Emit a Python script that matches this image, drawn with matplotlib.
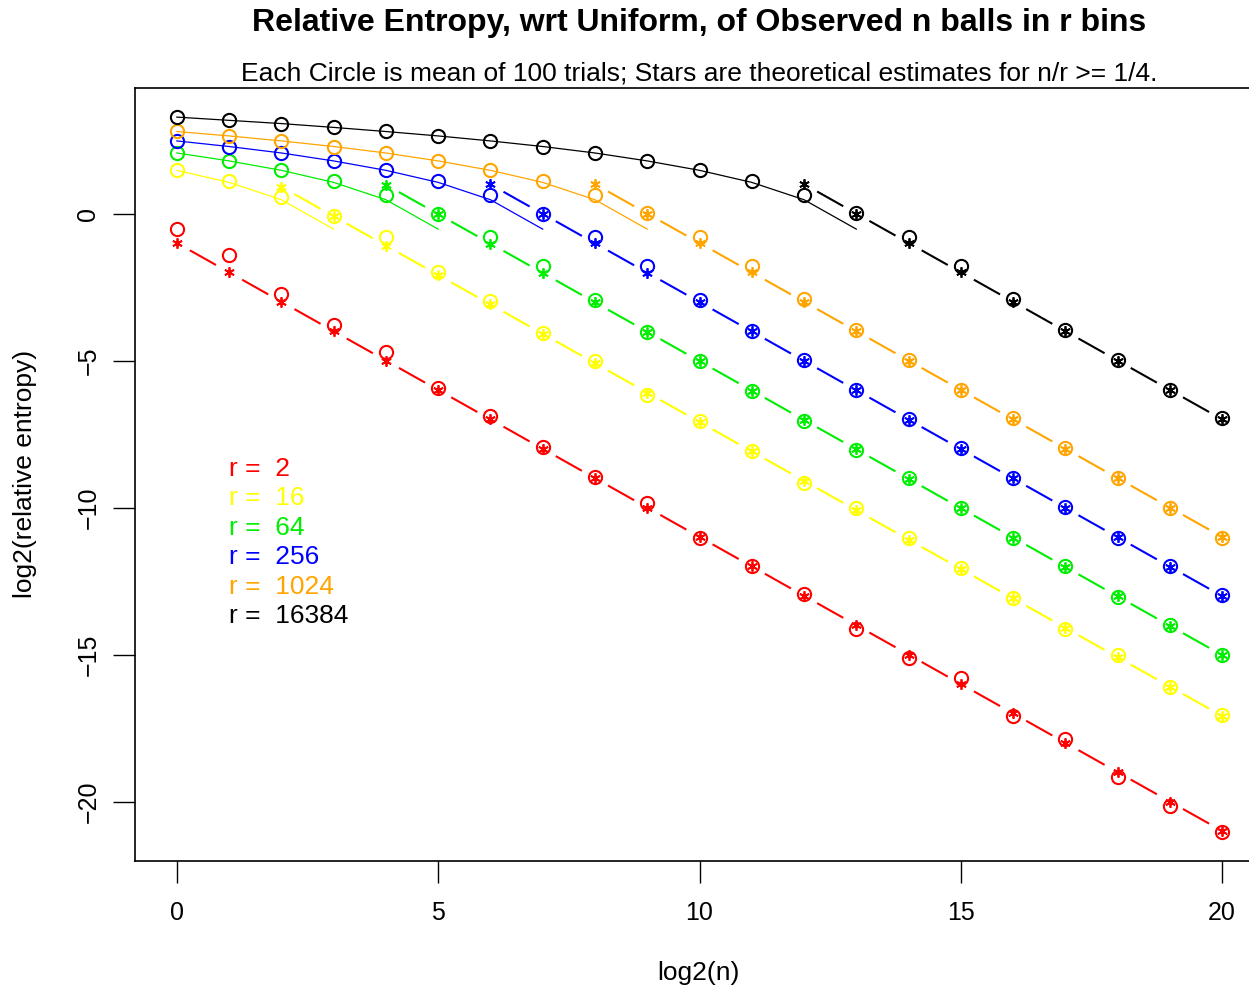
import matplotlib
matplotlib.use("Agg")
import matplotlib.pyplot as plt
import numpy as np

plt.rcParams['font.family'] = ['Liberation Sans', 'DejaVu Sans']

# bins (r) and colours
r_values = [2, 16, 64, 256, 1024, 16384]
colors = ['red', 'yellow', '#00ee00', 'blue', 'orange', 'black']

log2_n = list(range(21))

# observed means (circles), one list per r, x = 0..20
obs_r2 = [-0.52, -1.41, -2.73, -3.79, -4.72, -5.93, -6.87, -7.93, -8.95, -9.83, -11.05,
          -12.0, -12.93, -14.12, -15.1, -15.78, -17.1, -17.86, -19.18, -20.14, -21.05]
obs_r16 = [1.49, 1.10, 0.55, -0.07, -0.81, -2.0, -2.96, -4.07, -5.0, -6.16, -7.04,
           -8.06, -9.18, -10.0, -11.02, -12.04, -13.06, -14.12, -15.03, -16.09, -17.04]
obs_r64 = [2.06, 1.80, 1.49, 1.10, 0.63, -0.03, -0.81, -1.80, -2.93, -4.02, -5.03,
           -6.02, -7.04, -8.03, -9.01, -10.03, -11.02, -12.0, -13.03, -13.98, -15.0]
obs_r256 = [2.46, 2.28, 2.07, 1.80, 1.49, 1.12, 0.63, -0.03, -0.81, -1.80, -2.94,
            -3.98, -4.97, -5.99, -7.0, -7.99, -9.01, -9.97, -11.02, -12.0, -12.99]
obs_r1024 = [2.80, 2.65, 2.46, 2.28, 2.07, 1.80, 1.49, 1.12, 0.63, 0.01, -0.81,
             -1.80, -2.91, -3.96, -4.97, -5.99, -6.97, -7.99, -9.01, -10.0, -11.02]
obs_r16384 = [3.30, 3.19, 3.05, 2.94, 2.80, 2.65, 2.48, 2.28, 2.07, 1.80, 1.49,
              1.12, 0.63, 0.01, -0.81, -1.80, -2.89, -3.95, -4.97, -5.99, -6.97]
observed = [obs_r2, obs_r16, obs_r64, obs_r256, obs_r1024, obs_r16384]

# theoretical estimates (stars), for n/r >= 1/4
star_start = [0, 2, 4, 6, 8, 12]
star_r2 = [-1.0, -2.0, -3.0, -4.0, -5.0, -6.0, -7.0, -8.0, -9.0, -10.0, -11.0,
           -12.0, -13.0, -14.0, -15.0, -16.0, -17.0, -18.0, -19.0, -20.0, -21.0]
star_r16 = [0.91, -0.09, -1.09, -2.09, -3.09, -4.09, -5.09, -6.09, -7.09, -8.09,
            -9.09, -10.09, -11.09, -12.09, -13.09, -14.09, -15.09, -16.09, -17.09]
star_r64 = [0.98, -0.02, -1.02, -2.02, -3.02, -4.02, -5.02, -6.02, -7.02, -8.02,
            -9.02, -10.02, -11.02, -12.02, -13.02, -14.02, -15.02]
star_r256 = [0.99, -0.01, -1.01, -2.01, -3.01, -4.01, -5.01, -6.01, -7.01, -8.01,
             -9.01, -10.01, -11.01, -12.01, -13.01]
star_r1024 = [1.0, 0.0, -1.0, -2.0, -3.0, -4.0, -5.0, -6.0, -7.0, -8.0, -9.0,
              -10.0, -11.0]
star_r16384 = [1.0, 0.0, -1.0, -2.0, -3.0, -4.0, -5.0, -6.0, -7.0]
stars = [star_r2, star_r16, star_r64, star_r256, star_r1024, star_r16384]

# thin solid curves for small n (x = 0 .. log2(r)-1)
curve_r2 = []
curve_r16 = [1.47, 1.06, 0.47, -0.53]
curve_r64 = [2.06, 1.79, 1.47, 1.06, 0.47, -0.53]
curve_r256 = [2.47, 2.28, 2.06, 1.79, 1.47, 1.06, 0.47, -0.53]
curve_r1024 = [2.79, 2.64, 2.47, 2.28, 2.06, 1.79, 1.47, 1.06, 0.47, -0.53]
curve_r16384 = [3.28, 3.17, 3.06, 2.93, 2.79, 2.64, 2.47, 2.28, 2.06, 1.79,
                1.47, 1.06, 0.47, -0.53]
curves = [curve_r2, curve_r16, curve_r64, curve_r256, curve_r1024, curve_r16384]

W, H = 1249, 990
fig = plt.figure(figsize=(W / 100, H / 100), dpi=100)
ax = fig.add_axes([135 / W, 1 - 861 / H, (1264 - 135) / W, (861 - 88) / H])
ax.set_xlim(-0.8, 20.8)
ax.set_ylim(-22.02, 4.27)


def gapped_segments(x, y, color, gap=15):
    # R type="b": segments stop short of the points
    pts = ax.transData.transform(np.column_stack([x, y]))
    inv = ax.transData.inverted()
    for p0, p1 in zip(pts[:-1], pts[1:]):
        d = p1 - p0
        L = np.hypot(*d)
        if L <= 2 * gap:
            continue
        u = d / L
        a = inv.transform(p0 + u * gap)
        b = inv.transform(p1 - u * gap)
        ax.plot([a[0], b[0]], [a[1], b[1]], color=color, lw=1.5,
                solid_capstyle='butt')


for i, col in enumerate(colors):
    ax.plot(log2_n, observed[i], 'o', mfc='none', mec=col, ms=9.5, mew=1.5)
    xs = log2_n[star_start[i]:]
    ax.plot(xs, stars[i], ls='none', marker=(6, 2, 0), color=col, ms=7.5, mew=1.3)
    gapped_segments(xs, stars[i], col)
    if curves[i]:
        ax.plot(log2_n[:len(curves[i])], curves[i], color=col, lw=0.9)

for sp in ax.spines.values():
    sp.set_linewidth(1.2)

ax.set_xticks([0, 5, 10, 15, 20])
ax.set_yticks([0, -5, -10, -15, -20])
ax.tick_params(direction='out', length=16, width=1, labelsize=18)
ax.tick_params(axis='x', pad=13)
ax.tick_params(axis='y', labelrotation=90, pad=9)
for lab in ax.get_yticklabels():
    lab.set_va('center')

fig.text(698 / W, 1 - 973 / H, 'log2(n)', ha='center', va='center', fontsize=19)
fig.text(25 / W, 1 - 474 / H, 'log2(relative entropy)', ha='center', va='center',
         rotation=90, fontsize=19)

fig.text(699 / W, 1 - 23 / H, 'Relative Entropy, wrt Uniform, of Observed n balls in r bins',
         ha='center', va='center', fontsize=23, fontweight='bold')
fig.text(699 / W, 1 - 73 / H,
         'Each Circle is mean of 100 trials; Stars are theoretical estimates for n/r >= 1/4.',
         ha='center', va='center', fontsize=19)

# legend as coloured text
for i, (r, col) in enumerate(zip(r_values, colors)):
    fig.text(229 / W, 1 - (469 + 29.4 * i) / H, f'r =  {r}', color=col,
             ha='left', va='center', fontsize=19)

fig.savefig('out.png', dpi=100)
